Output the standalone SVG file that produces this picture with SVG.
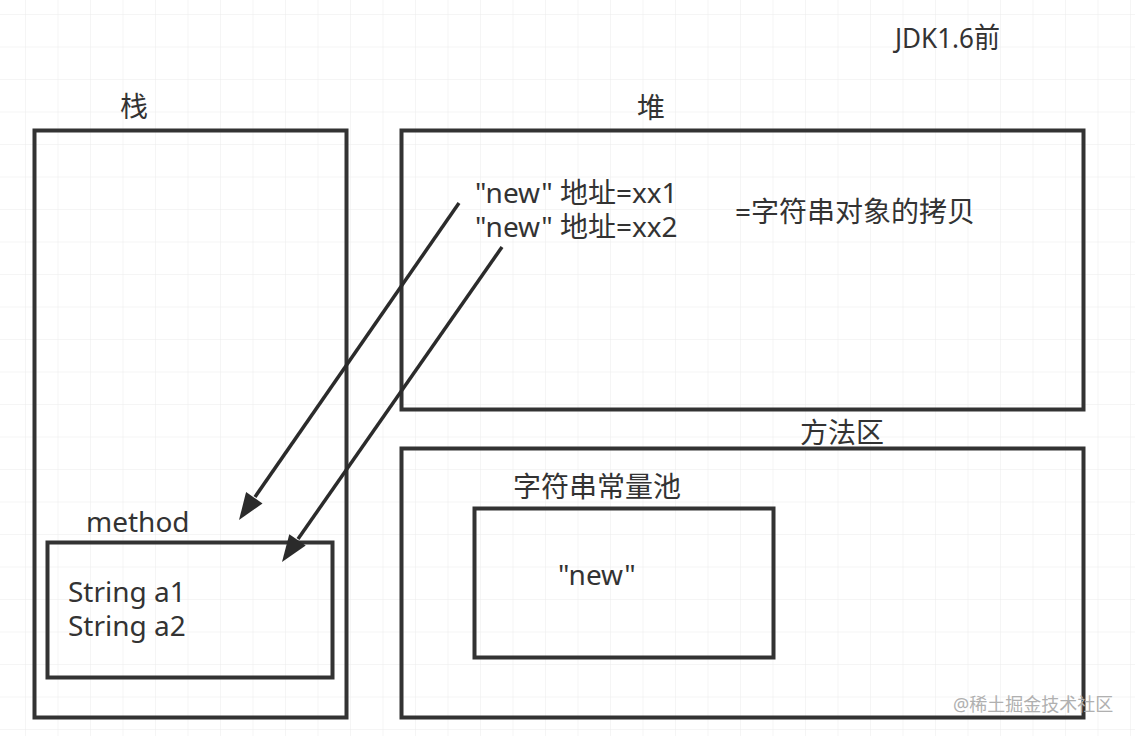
<svg xmlns="http://www.w3.org/2000/svg" width="1135" height="736" viewBox="0 0 1135 736">
  <defs>
    <pattern id="grid" x="25" y="14" width="32.5" height="32.5" patternUnits="userSpaceOnUse">
      <path d="M0,0 H32.5 M0,0 V32.5" fill="none" stroke="#ececec" stroke-width="1"/>
    </pattern>
    <style>
      .box { fill: none; stroke: #333; stroke-width: 4; }
      .t { font-family: "Noto Sans", "Noto Sans CJK SC", sans-serif; font-size: 28px; fill: #333; }
      .wm { font-family: "Noto Sans", "Noto Sans CJK SC", sans-serif; font-size: 18px; fill: #b0b0b0; }
      .conn { stroke: #2b2b2b; stroke-width: 3.5; fill: none; }
      .head { fill: #2b2b2b; }
    </style>
  </defs>
  <rect x="0" y="0" width="1135" height="736" fill="#fff"/>
  <rect x="0" y="0" width="1135" height="736" fill="url(#grid)"/>

  <text class="t" x="895" y="48" textLength="105" lengthAdjust="spacingAndGlyphs">JDK1.6前</text>

  <g id="stack">
    <rect class="box" x="34.5" y="130.5" width="312" height="587"/>
    <text class="t" x="120" y="117">栈</text>
  </g>
  <g id="method">
    <rect class="box" x="47.5" y="542.5" width="285" height="135"/>
    <text class="t" x="86" y="532">method</text>
    <text class="t" x="68" y="602">String a1</text>
    <text class="t" x="68" y="636">String a2</text>
  </g>
  <g id="heap">
    <rect class="box" x="401.5" y="130.5" width="682" height="279"/>
    <text class="t" x="637" y="118">堆</text>
    <text class="t" x="475" y="203">"new" 地址=xx1</text>
    <text class="t" x="475" y="237">"new" 地址=xx2</text>
    <text class="t" x="735" y="222">=字符串对象的拷贝</text>
  </g>
  <g id="method-area">
    <rect class="box" x="401.5" y="448.5" width="682" height="269"/>
    <text class="t" x="800" y="443">方法区</text>
  </g>
  <g id="string-pool">
    <rect class="box" x="474.5" y="508.5" width="299" height="149"/>
    <text class="t" x="513" y="497">字符串常量池</text>
    <text class="t" x="558" y="585">"new"</text>
  </g>

  <g id="connectors">
    <line class="conn" x1="459" y1="203" x2="255" y2="497"/>
    <polygon class="head" points="239,520 262.5,503.5 246.1,492.1"/>
    <line class="conn" x1="502" y1="247" x2="298" y2="539"/>
    <polygon class="head" points="282,562 305.7,545.6 289.3,534.2"/>
  </g>

  <text class="wm" x="953" y="711">@稀土掘金技术社区</text>
</svg>
